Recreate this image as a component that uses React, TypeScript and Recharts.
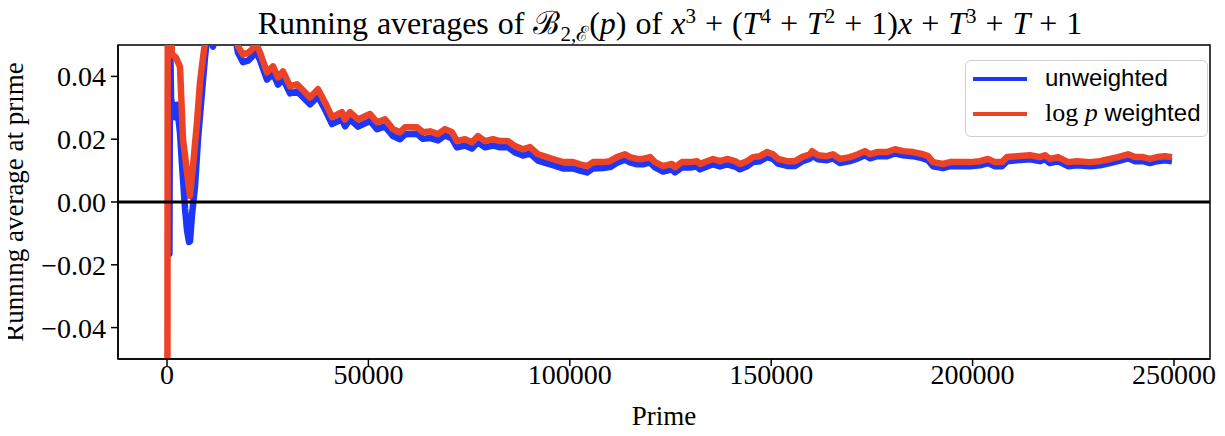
import React from 'react';
import { LineChart, Line, XAxis, YAxis, ReferenceLine, ReferenceArea } from 'recharts';

// ---- data ----
const tailPrimes = [
  24830, 26320, 27560, 28800, 30540, 32270, 33520, 35500, 37490, 39230,
  40960, 43450, 44190, 45430, 47420, 50400, 52140, 54120, 56110, 57850,
  59090, 62070, 63560, 65290, 67280, 69020, 70760, 72000, 73980, 75720,
  77210, 78950, 80930, 82670, 84660, 86400, 88380, 90120, 92100, 94340,
  95830, 98310, 100790, 102530, 104270, 105760, 108240, 109980, 111720, 113700,
  114940, 116680, 118170, 119910, 121150, 123140, 125370, 126120, 127850, 129840,
  131580, 132320, 134060, 135550, 137290, 139030, 141010, 142250, 143990, 145480,
  147220, 148960, 150450, 151690, 153920, 155910, 157650, 159630, 160130, 161620,
  163850, 165340, 167080, 169560, 171550, 173290, 174530, 176270, 178750, 180730,
  182720, 185200, 187690, 188930, 190170, 192650, 194390, 196870, 199350, 201840,
  203820, 205560, 207300, 208540, 211020, 214250, 216730, 217970, 219210, 221200,
  223680, 225920, 229140, 231630, 234110, 236100, 238580, 240320, 242300, 244040,
  245780, 247760, 249500,
];

const weightedPrimes = [
  2, 200, 1240, 2230, 3230, 3970, 4970, 5710, 6460, 7450,
  8190, 8940, 9680, 11420, 13160, 15640, 17130, 17630, 18870, 20110,
  21100, 21850, 22590, 23090,
  ...tailPrimes,
];

const weightedValues = [
  -0.2, 0.08, 0.047, 0.046, 0.043, 0.02, 0.0095, 0.002, 0.0114, 0.0254,
  0.038, 0.046, 0.053, 0.052, 0.058, 0.056, 0.053, 0.0495, 0.047, 0.0475,
  0.0486, 0.0502, 0.049, 0.0476,
  0.0413, 0.0432, 0.0397, 0.0416, 0.0368, 0.0375, 0.0359, 0.0333, 0.0359, 0.0317,
  0.027, 0.0286, 0.0263, 0.0286, 0.0263, 0.028, 0.0254, 0.0263, 0.0232, 0.0222,
  0.0238, 0.0238, 0.0222, 0.0225, 0.0216, 0.0232, 0.0222, 0.0194, 0.02, 0.019,
  0.021, 0.0194, 0.02, 0.0194, 0.0194, 0.0178, 0.0168, 0.0175, 0.0152, 0.0143,
  0.0137, 0.0127, 0.0127, 0.012, 0.0114, 0.0127, 0.0127, 0.013, 0.0143, 0.0152,
  0.0143, 0.0137, 0.0137, 0.0143, 0.0127, 0.0114, 0.0121, 0.0111, 0.0127, 0.0127,
  0.013, 0.0121, 0.013, 0.0137, 0.013, 0.0137, 0.013, 0.0121, 0.013, 0.0143,
  0.0146, 0.0159, 0.0152, 0.0137, 0.013, 0.013, 0.0143, 0.0152, 0.0162, 0.0149,
  0.0146, 0.0152, 0.0137, 0.0143, 0.0152, 0.0162, 0.0152, 0.0159, 0.0159, 0.0168,
  0.0162, 0.0159, 0.0152, 0.0146, 0.0127, 0.0121, 0.0127, 0.0127, 0.0127, 0.013,
  0.0137, 0.0127, 0.0127, 0.0143, 0.0146, 0.0149, 0.0143, 0.0149, 0.0137, 0.0143,
  0.0127, 0.013, 0.0127, 0.013, 0.0137, 0.0143, 0.0152, 0.0143, 0.0143, 0.0137,
  0.0143, 0.0146, 0.0143,
];

const unweightedPrimes = [
  2, 120, 600, 760, 1000, 1500, 1990, 2480, 3230, 3720,
  4470, 4970, 5460, 5710, 6210, 6950, 7700, 8690, 9430, 10180,
  11420, 12660, 15640, 17130, 17630, 18870, 20110, 21100, 21850, 22590,
  23090,
  ...tailPrimes,
];

const unweightedValues = [
  0.25, 0.1, -0.0165, 0.055, 0.033, 0.029, 0.027, 0.031, 0.022, 0.012,
  -0.002, -0.009, -0.0127, -0.0125, -0.004, 0.005, 0.02, 0.035, 0.046, 0.055,
  0.0495, 0.056, 0.055, 0.051, 0.0475, 0.0445, 0.045, 0.0463, 0.048, 0.0465,
  0.0452,
  0.039, 0.041, 0.0374, 0.0393, 0.0346, 0.0352, 0.0337, 0.0311, 0.0336, 0.0295,
  0.0248, 0.0263, 0.0241, 0.0264, 0.024, 0.0258, 0.0232, 0.0241, 0.021, 0.02,
  0.0216, 0.0217, 0.0201, 0.0204, 0.0196, 0.0212, 0.0202, 0.0174, 0.018, 0.017,
  0.019, 0.0174, 0.018, 0.0174, 0.0175, 0.0158, 0.0148, 0.0155, 0.0132, 0.0123,
  0.0117, 0.0107, 0.0107, 0.01, 0.0094, 0.0107, 0.0108, 0.0111, 0.0125, 0.0135,
  0.0126, 0.012, 0.012, 0.0126, 0.011, 0.0097, 0.0104, 0.0094, 0.011, 0.011,
  0.0113, 0.0104, 0.0113, 0.012, 0.0113, 0.012, 0.0113, 0.0104, 0.0114, 0.0127,
  0.013, 0.0143, 0.0137, 0.0122, 0.0115, 0.0115, 0.0129, 0.0138, 0.0149, 0.0136,
  0.0133, 0.0139, 0.0124, 0.013, 0.0139, 0.0149, 0.0139, 0.0146, 0.0146, 0.0155,
  0.0149, 0.0146, 0.0139, 0.0133, 0.0114, 0.0108, 0.0114, 0.0114, 0.0114, 0.0117,
  0.0124, 0.0114, 0.0114, 0.013, 0.0133, 0.0136, 0.013, 0.0136, 0.0124, 0.013,
  0.0114, 0.0117, 0.0114, 0.0117, 0.0124, 0.013, 0.0139, 0.013, 0.013, 0.0124,
  0.013, 0.0133, 0.013,
];

const xTicks = [0, 50000, 100000, 150000, 200000, 250000];
const yTicks = [-0.04, -0.02, 0, 0.02, 0.04];
const xDomain = [-12165, 258940];
const yDomain = [-0.05, 0.05];

const weightedData = weightedPrimes.map((p, i) => ({ p, v: weightedValues[i] }));
const unweightedData = unweightedPrimes.map((p, i) => ({ p, v: unweightedValues[i] }));

// ---- styling ----
const W = 1209;
const H = 420;
const BLUE = '#1c36fa';
const RED = '#ec4226';
const SERIF = '"Liberation Serif", "DejaVu Serif", serif';
const SANS = '"Liberation Sans", Arial, sans-serif';
const TICK_FS = 28;

const fmtY = (v: number) => {
  const s = Math.abs(v).toFixed(2);
  return v < -1e-9 ? '\u2212' + s : s;
};

const supStyle = { fontSize: 21, verticalAlign: 11 };

export default function App() {
  return (
    <div style={{ position: 'relative', width: W, height: H, fontFamily: SERIF, color: '#000' }}>
      <LineChart width={W} height={H} margin={{ top: 37, right: 7, bottom: 0, left: 0 }}>
        <XAxis
          type="number"
          dataKey="p"
          domain={xDomain}
          allowDataOverflow
          ticks={xTicks}
          interval={0}
          tickSize={7}
          tickMargin={-2}
          height={69}
          axisLine={{ stroke: '#000', strokeWidth: 1.5 }}
          tickLine={{ stroke: '#000', strokeWidth: 1.5 }}
          tick={{ fill: '#000', fontSize: TICK_FS, fontFamily: SERIF }}
        />
        <YAxis
          type="number"
          domain={yDomain}
          allowDataOverflow
          ticks={yTicks}
          interval={0}
          width={110}
          tickSize={7}
          tickMargin={5}
          tickFormatter={fmtY}
          axisLine={{ stroke: '#000', strokeWidth: 1.5 }}
          tickLine={{ stroke: '#000', strokeWidth: 1.5 }}
          tick={{ fill: '#000', fontSize: TICK_FS, fontFamily: SERIF }}
        />
        <Line
          data={unweightedData}
          dataKey="v"
          name="unweighted"
          type="linear"
          stroke={BLUE}
          strokeWidth={6.5}
          strokeLinejoin="round"
          dot={false}
          activeDot={false}
          isAnimationActive={false}
        />
        <Line
          data={weightedData}
          dataKey="v"
          name="log p weighted"
          type="linear"
          stroke={RED}
          strokeWidth={6.5}
          strokeLinejoin="round"
          dot={false}
          activeDot={false}
          isAnimationActive={false}
        />
        <ReferenceLine y={0} stroke="#000" strokeWidth={3} ifOverflow="hidden" />
        <ReferenceArea
          x1={xDomain[0]}
          x2={xDomain[1]}
          y1={yDomain[0]}
          y2={yDomain[1]}
          fill="none"
          fillOpacity={0}
          stroke="#000"
          strokeWidth={1.5}
          ifOverflow="visible"
        />
      </LineChart>

      {/* title */}
      <div
        style={{
          position: 'absolute', left: 116, width: 1092, top: -8, textAlign: 'center',
          fontSize: 32, lineHeight: '32px', whiteSpace: 'nowrap', fontFamily: SERIF,
          wordSpacing: 1,
        }}
      >
        Running averages of ℬ<sub style={{ fontSize: 21, verticalAlign: -7 }}>2,ℰ</sub>(<i>p</i>) of{' '}
        <i>x</i><sup style={supStyle}>3</sup> + (<i>T</i>
        <sup style={supStyle}>4</sup> + <i>T</i>
        <sup style={supStyle}>2</sup> + 1)<i>x</i> + <i>T</i>
        <sup style={supStyle}>3</sup> + <i>T</i> + 1
      </div>

      {/* y label */}
      <div
        style={{
          position: 'absolute', left: 6, top: 194, transform: 'translate(-50%, -50%) rotate(-90deg)',
          fontSize: 27, lineHeight: '30px', whiteSpace: 'nowrap', fontFamily: SERIF,
        }}
      >
        Running average at prime
      </div>

      {/* x label */}
      <div
        style={{
          position: 'absolute', left: 656, top: 408, transform: 'translate(-50%, -50%)',
          fontSize: 27, lineHeight: '30px', whiteSpace: 'nowrap', fontFamily: SERIF,
        }}
      >
        Prime
      </div>

      {/* legend */}
      <div
        style={{
          position: 'absolute', left: 957, top: 52, width: 243, height: 77, boxSizing: 'border-box',
          border: '1.5px solid #d0d0d0', borderRadius: 6, background: 'rgba(255,255,255,0.85)',
        }}
      >
        {[{ name: 'unweighted', color: BLUE, y: 17 }, { name: 'log p weighted', color: RED, y: 52 }].map((e) => (
          <div key={e.name} style={{ position: 'absolute', left: 0, top: e.y - 15, height: 30, width: 243 }}>
            <div style={{ position: 'absolute', left: 7, top: 14, width: 54, height: 3.5, background: e.color }} />
            <div
              style={{
                position: 'absolute', left: 79, top: 0, lineHeight: '30px', fontSize: 24,
                fontFamily: SANS, whiteSpace: 'nowrap',
              }}
            >
              {e.name === 'unweighted' ? (
                'unweighted'
              ) : (
                <>
                  <span style={{ fontFamily: SERIF, fontSize: 26 }}>log <i>p</i></span> weighted
                </>
              )}
            </div>
          </div>
        ))}
      </div>
    </div>
  );
}
